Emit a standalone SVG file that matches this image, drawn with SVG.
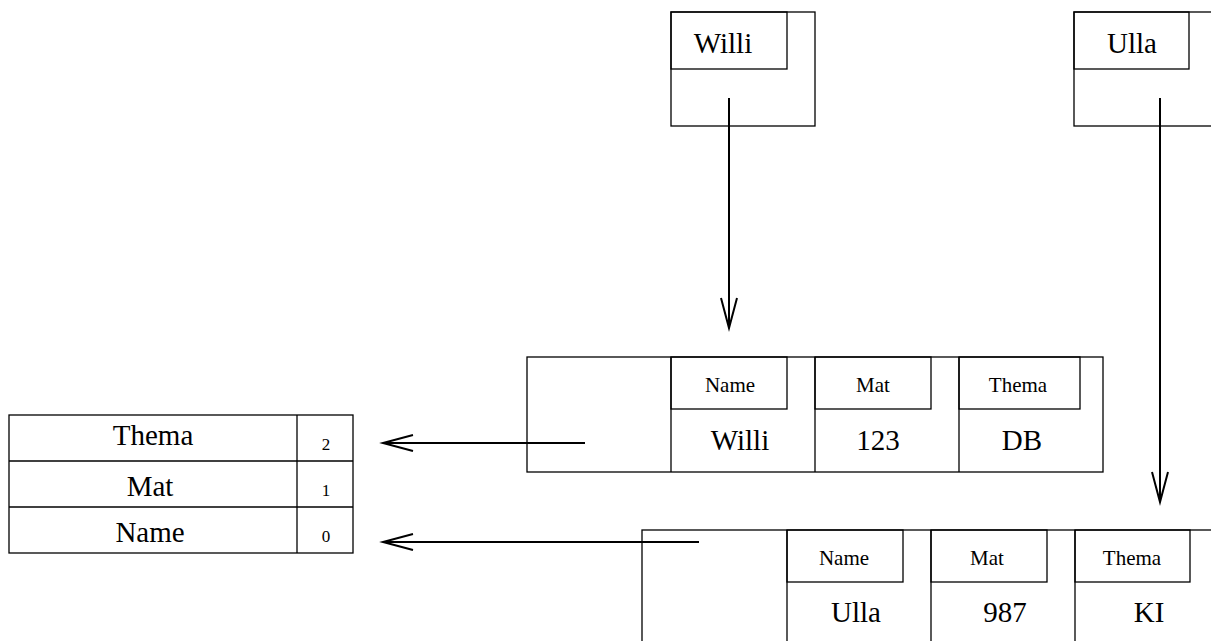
<svg xmlns="http://www.w3.org/2000/svg" width="1211" height="641" viewBox="0 0 1211 641">
<style>
.box{fill:none;stroke:#000;stroke-width:1.3}
.edge{fill:none;stroke:#000;stroke-width:2}
text{font-family:"Liberation Serif","Times New Roman",serif;fill:#000;text-anchor:middle}
.big{font-size:29px}
.hdr{font-size:21px}
.num{font-size:17px}
</style>
<defs>
<marker id="vee" markerUnits="userSpaceOnUse" markerWidth="40" markerHeight="24" viewBox="-32 -12 40 24" refX="0" refY="0" orient="auto">
<path d="M-30,-8 L0,0 L-30,8" fill="none" stroke="#000" stroke-width="2"/>
</marker>
</defs>
<rect width="1211" height="641" fill="#fff"/>

<g id="node-willi-var">
<rect class="box" x="671" y="12" width="144" height="114"/>
<rect class="box" x="671" y="12" width="116" height="57"/>
<text class="big" x="723" y="53">Willi</text>
</g>

<g id="node-ulla-var">
<rect class="box" x="1074" y="12" width="150" height="114"/>
<rect class="box" x="1074" y="12" width="115" height="57"/>
<text class="big" x="1132" y="53">Ulla</text>
</g>

<g id="node-table">
<rect class="box" x="9" y="415" width="344" height="138"/>
<line class="box" x1="9" y1="461" x2="353" y2="461"/>
<line class="box" x1="9" y1="507" x2="353" y2="507"/>
<line class="box" x1="297" y1="415" x2="297" y2="553"/>
<text class="big" x="153" y="445">Thema</text>
<text class="big" x="150" y="496">Mat</text>
<text class="big" x="150" y="542">Name</text>
<text class="num" x="326" y="450">2</text>
<text class="num" x="326" y="496">1</text>
<text class="num" x="326" y="542">0</text>
</g>

<g id="node-record-willi">
<rect class="box" x="527" y="357" width="576" height="115"/>
<line class="box" x1="671" y1="357" x2="671" y2="472"/>
<line class="box" x1="815" y1="357" x2="815" y2="472"/>
<line class="box" x1="959" y1="357" x2="959" y2="472"/>
<rect class="box" x="671" y="357" width="116" height="52"/>
<rect class="box" x="815" y="357" width="116" height="52"/>
<rect class="box" x="959" y="357" width="121" height="52"/>
<text class="hdr" x="730" y="392">Name</text>
<text class="hdr" x="873" y="392">Mat</text>
<text class="hdr" x="1018" y="392">Thema</text>
<text class="big" x="740" y="450">Willi</text>
<text class="big" x="878" y="450">123</text>
<text class="big" x="1022" y="450">DB</text>
</g>

<g id="node-record-ulla">
<rect class="box" x="642" y="530" width="600" height="130"/>
<line class="box" x1="787" y1="530" x2="787" y2="641"/>
<line class="box" x1="931" y1="530" x2="931" y2="641"/>
<line class="box" x1="1075" y1="530" x2="1075" y2="641"/>
<rect class="box" x="787" y="530" width="116" height="52"/>
<rect class="box" x="931" y="530" width="116" height="52"/>
<rect class="box" x="1075" y="530" width="115" height="52"/>
<text class="hdr" x="844" y="565">Name</text>
<text class="hdr" x="987" y="565">Mat</text>
<text class="hdr" x="1132" y="565">Thema</text>
<text class="big" x="856" y="622">Ulla</text>
<text class="big" x="1005" y="622">987</text>
<text class="big" x="1149" y="622">KI</text>
</g>

<g id="connectors">
<line class="edge" x1="729" y1="98" x2="729" y2="328" marker-end="url(#vee)"/>
<line class="edge" x1="1160" y1="98" x2="1160" y2="502" marker-end="url(#vee)"/>
<line class="edge" x1="585" y1="443" x2="383" y2="443" marker-end="url(#vee)"/>
<line class="edge" x1="699" y1="542" x2="383" y2="542" marker-end="url(#vee)"/>
</g>
</svg>
